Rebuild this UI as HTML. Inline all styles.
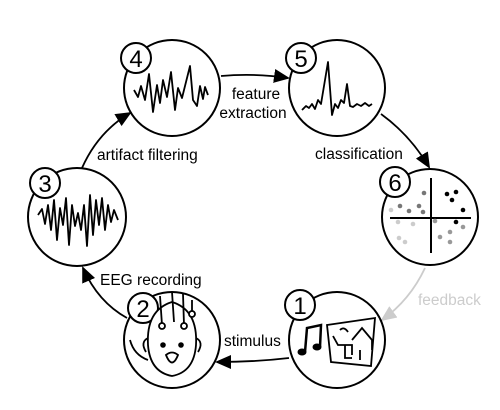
<!DOCTYPE html>
<html><head><style>html,body{margin:0;padding:0;background:#fff}svg{display:block}</style></head><body>
<svg width="500" height="410" viewBox="0 0 500 410" xmlns="http://www.w3.org/2000/svg" font-family="Liberation Sans, sans-serif">
<defs>
<marker id="a" markerWidth="16" markerHeight="16" refX="14" refY="8" orient="auto" markerUnits="userSpaceOnUse" viewBox="0 0 16 16"><path d="M0,1 L16,8 L0,15z" fill="#000"/></marker>
<marker id="g" markerWidth="16" markerHeight="16" refX="14" refY="8" orient="auto" markerUnits="userSpaceOnUse" viewBox="0 0 16 16"><path d="M0,1 L16,8 L0,15z" fill="#ccc"/></marker>
</defs>
<g fill="none" stroke="#000" stroke-width="2">
<path d="M221,76 Q255,73 288,78" marker-end="url(#a)" stroke-width="1.8"/>
<path d="M381,114 Q410,135 429,167" marker-end="url(#a)" stroke-width="1.8"/>
<path d="M82,168 Q98,132 130,113" marker-end="url(#a)" stroke-width="1.8"/>
<path d="M127,318 Q98,302 83,268" marker-end="url(#a)" stroke-width="1.8"/>
<path d="M289,358 Q255,362 217,362" marker-end="url(#a)" stroke-width="1.8"/>
<path d="M425,268 Q410,300 382,320" marker-end="url(#g)" stroke="#ccc" stroke-width="1.8"/>
<circle cx="172" cy="88" r="48"/><circle cx="337" cy="88" r="48"/>
<circle cx="77" cy="217" r="49"/><circle cx="430" cy="217" r="48"/>
<circle cx="172" cy="340" r="48"/><circle cx="337" cy="340" r="48"/>
</g>
<g fill="#fff" stroke="#000" stroke-width="2">
<circle cx="136" cy="58" r="15"/><circle cx="301" cy="58" r="15"/>
<circle cx="45" cy="183" r="15"/><circle cx="395" cy="182" r="15"/>
<circle cx="143" cy="308" r="15"/><circle cx="300" cy="305" r="15"/>
</g>
<g font-size="24" text-anchor="middle">
<text x="136" y="67">4</text><text x="301" y="67">5</text><text x="45" y="192">3</text>
<text x="395" y="191">6</text><text x="143" y="317">2</text><text x="300" y="314">1</text>
</g>
<g fill="none" stroke="#000" stroke-width="1.8" stroke-linejoin="round">
<path d="M134,90 L138,97 L141,86 L145,100 L149,74 L153,112 L157,85 L160,103 L163,80 L167,97 L171,72 L175,110 L178,88 L182,98 L186,82 L190,66 L193,100 L197,106 L200,86 L203,99 L205,87 L208,95"/>
<path d="M302,110 L306,106 L309,108 L312,104 L315,109 L318,100 L321,104 L328,62 L332,115 L335,104 L338,108 L341,100 L344,103 L347,84 L350,106 L353,107 L357,104 L361,106 L365,103 L369,106 L372,104"/>
<path d="M38,215 L42,209 L45,224 L48,205 L51,230 L54,200 L57,240 L60,208 L63,225 L66,198 L69,245 L72,205 L75,226 L78,213 L81,230 L84,205 L87,246 L90,195 L93,235 L96,200 L99,225 L102,198 L105,230 L108,205 L111,222 L114,210 L118,220"/>
</g>
<g stroke="#000" stroke-width="2"><line x1="431" y1="178" x2="431" y2="253"/><line x1="390" y1="218" x2="471" y2="218"/></g>
<g fill="#000"><circle cx="447" cy="194" r="2.3"/><circle cx="456" cy="192" r="2.3"/><circle cx="452" cy="200" r="2.3"/><circle cx="463" cy="210" r="2.3"/><circle cx="456" cy="222" r="2.3"/></g>
<g fill="#777"><circle cx="424" cy="193" r="2.3"/><circle cx="400" cy="206" r="2.3"/><circle cx="409" cy="211" r="2.3"/><circle cx="419" cy="206" r="2.3"/><circle cx="423" cy="212" r="2.3"/></g>
<g fill="#ccc"><circle cx="391" cy="210" r="2.3"/><circle cx="398" cy="222" r="2.3"/><circle cx="413" cy="224" r="2.3"/><circle cx="399" cy="238" r="2.3"/><circle cx="405" cy="242" r="2.3"/></g>
<g fill="#999"><circle cx="435" cy="221" r="2.3"/><circle cx="463" cy="227" r="2.3"/><circle cx="450" cy="232" r="2.3"/><circle cx="440" cy="237" r="2.3"/><circle cx="450" cy="242" r="2.3"/></g>
<g fill="none" stroke="#000" stroke-width="1.8">
<path d="M148,345 Q146,310 172,302 Q198,310 196,345 Q194,372 172,376 Q150,372 148,345z" fill="#fff"/>
<path d="M148,338 Q140,342 146,352"/><path d="M196,338 Q204,342 198,352"/>
<path d="M160,296 L162,325 M172,292 L174,322 M183,294 L184,325 M192,300 L192,315"/>
<circle cx="162" cy="326" r="3" fill="#fff"/><circle cx="184" cy="326" r="3" fill="#fff"/><circle cx="192" cy="314" r="3" fill="#fff"/>
<path d="M166,355 Q172,370 178,355 Q172,350 166,355z"/>
<path d="M130,340 Q134,355 148,360"/>
<path d="M327,325 L375,318 L371,366 L331,362 z"/>
<path d="M333,336 L338,345 L352,345 L352,355 M345,345 L345,358 L352,358 M352,340 L362,328 L372,340 L372,350 M360,350 L360,360 M340,330 Q344,326 348,332"/>
</g>
<g fill="#000"><ellipse cx="302" cy="352" rx="4.5" ry="3.5"/><ellipse cx="317" cy="347" rx="4.5" ry="3.5"/><circle cx="163" cy="345" r="2.8"/><circle cx="181" cy="345" r="2.8"/></g>
<path d="M305,352 L307,328 L321,325 L320,347" fill="none" stroke="#000" stroke-width="2.5"/>
<g font-size="15.5" fill="#000">
<text x="256" y="99" text-anchor="middle">feature</text>
<text x="253" y="118" text-anchor="middle">extraction</text>
<text x="97" y="160">artifact filtering</text>
<text x="315" y="159">classification</text>
<text x="100" y="285">EEG recording</text>
<text x="224" y="346">stimulus</text>
<text x="418" y="305" fill="#ccc">feedback</text>
</g>
</svg>
</body></html>
